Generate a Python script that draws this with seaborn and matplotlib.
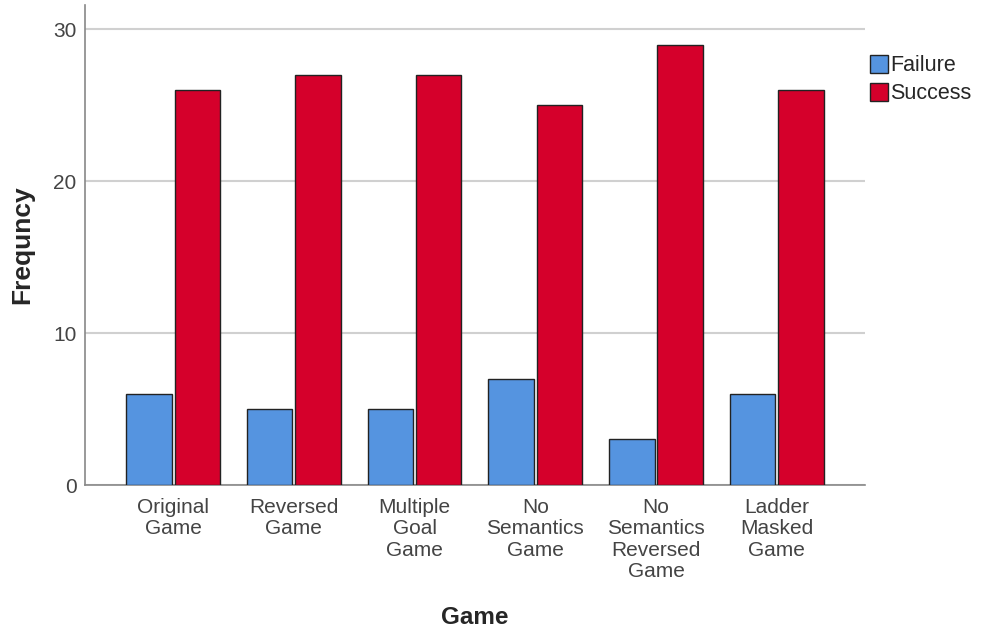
import pandas as pd
import numpy as np
import matplotlib
matplotlib.use('Agg')
import matplotlib.pyplot as plt
import seaborn as sns

# Data
games = ['Original\nGame', 'Reversed\nGame', 'Multiple\nGoal\nGame', 'No\nSemantics\nGame',
         'No\nSemantics\nReversed\nGame', 'Ladder\nMasked\nGame']
failure = [6, 5, 5, 7, 3, 6]
success = [26, 27, 27, 25, 29, 26]
outcomes = ['Failure', 'Success']

df = pd.DataFrame({
    'Game': games * 2,
    'Outcome': ['Failure'] * len(games) + ['Success'] * len(games),
    'Frequency': failure + success,
})

sns.set_style('white')
plt.rcParams['font.family'] = ['Liberation Sans', 'DejaVu Sans']

fig = plt.figure(figsize=(9.81, 6.34), dpi=100)
ax = fig.add_axes([0.0866, 0.235, 0.795, 0.757])

palette = {'Failure': '#5594E0', 'Success': '#D5002B'}
sns.barplot(data=df, x='Game', y='Frequency', hue='Outcome', hue_order=outcomes,
            palette=palette, width=0.8, gap=0.06, edgecolor='#222222', linewidth=1,
            saturation=1, ax=ax, zorder=3)

ax.set_xlim(-0.73, 5.73)
ax.set_ylim(0, 31.6)
ax.set_yticks([0, 10, 20, 30])
ax.yaxis.grid(True, color='#d0d0d0', linewidth=1.5, zorder=0)
ax.set_axisbelow(True)

for s in ['top', 'right']:
    ax.spines[s].set_visible(False)
for s in ['left', 'bottom']:
    ax.spines[s].set_color('#888888')
    ax.spines[s].set_linewidth(1.2)

ax.tick_params(axis='both', length=0, labelsize=15, labelcolor='#444444')
ax.tick_params(axis='x', pad=9)
ax.tick_params(axis='y', pad=6)
plt.setp(ax.get_xticklabels(), linespacing=1.17)

ax.set_ylabel('Frequncy', fontsize=19, fontweight='bold', labelpad=14)
ax.set_xlabel('Game', fontsize=17.5, fontweight='bold', labelpad=18)

ax.legend(title=None, frameon=False, loc='upper left', bbox_to_anchor=(0.995, 0.914),
          fontsize=15.5, handlelength=0.85, handleheight=0.9, handletextpad=0.1,
          labelspacing=0.3, borderaxespad=0)

fig.savefig('out.png', dpi=100)
